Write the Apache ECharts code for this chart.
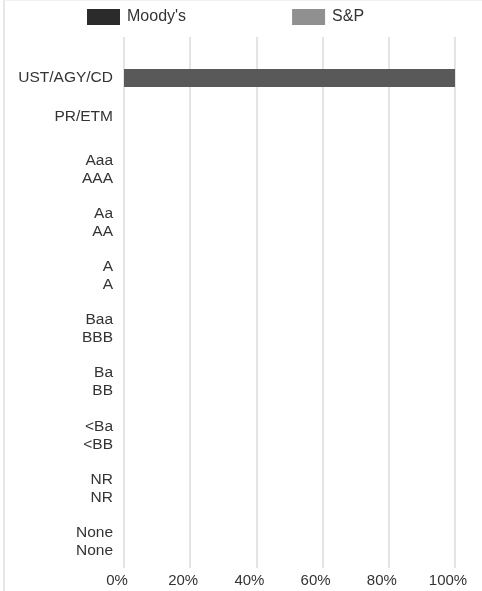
<!DOCTYPE html>
<html>
<head>
<meta charset="utf-8">
<script src="https://cdn.jsdelivr.net/npm/echarts@6/dist/echarts.min.js"></script>
<style>
html,body{margin:0;padding:0;background:#fff;}
#frame{position:absolute;left:3px;top:0;width:479px;height:591px;border-left:2px solid #e6e6e6;border-top:1px solid #f2f2f2;box-sizing:border-box;}
#chart{position:absolute;left:0;top:0;width:482px;height:591px;}
</style>
</head>
<body>
<div id="frame"></div>
<div id="chart"></div>
<script>
const categories = ['UST/AGY/CD', 'PR/ETM', 'Aaa\nAAA', 'Aa\nAA', 'A\nA', 'Baa\nBBB', 'Ba\nBB', '<Ba\n<BB', 'NR\nNR', 'None\nNone'];
const moodys = [0, 0, 0, 0, 0, 0, 0, 0, 0, 0];
const sp = [100, 0, 0, 0, 0, 0, 0, 0, 0, 0];
const xTicks = [0, 20, 40, 60, 80, 100];

const font = '"Liberation Sans", Arial, Helvetica, sans-serif';

const chart = echarts.init(document.getElementById('chart'), null, {renderer: 'canvas'});
chart.setOption({
  animation: false,
  textStyle: {fontFamily: font},
  legend: {
    left: 82, top: 4,
    itemWidth: 33, itemHeight: 16, itemGap: 106,
    textStyle: {fontSize: 16, color: '#333', fontFamily: font, padding: [0, 0, 0, 2]},
    data: [
      {name: "Moody's", icon: 'rect', itemStyle: {color: '#2b2b2b'}},
      {name: 'S&P', icon: 'rect', itemStyle: {color: '#909090'}}
    ]
  },
  grid: {left: 124, right: 27, top: 37, bottom: 23, containLabel: false},
  xAxis: {
    type: 'value', min: xTicks[0], max: xTicks[xTicks.length - 1], interval: 20,
    axisLine: {show: false}, axisTick: {show: false},
    axisLabel: {fontSize: 15, color: '#333', margin: 5, padding: [0, 14, 0, 0], formatter: v => v + '%', fontFamily: font},
    splitLine: {show: true, lineStyle: {color: '#e4e4e4', width: 2}}
  },
  yAxis: {
    type: 'category', inverse: true, data: categories,
    axisLine: {show: false}, axisTick: {show: false},
    axisLabel: {
      fontSize: 15.5, color: '#333', margin: 11, lineHeight: 18, align: 'right', fontFamily: font,
      formatter: (v, i) => i === 0 ? '{lo|' + v + '}' : v,
      rich: {lo: {fontSize: 15.5, color: '#333', fontFamily: font, lineHeight: 18, padding: [28, 0, 0, 0]}}
    }
  },
  series: [
    {name: "Moody's", type: 'bar', data: moodys, barWidth: 18, barGap: '60%', itemStyle: {color: '#2b2b2b'}},
    {name: 'S&P', type: 'bar', data: sp, barWidth: 18, barGap: '60%', itemStyle: {color: '#595959'}}
  ]
});
</script>
</body>
</html>
